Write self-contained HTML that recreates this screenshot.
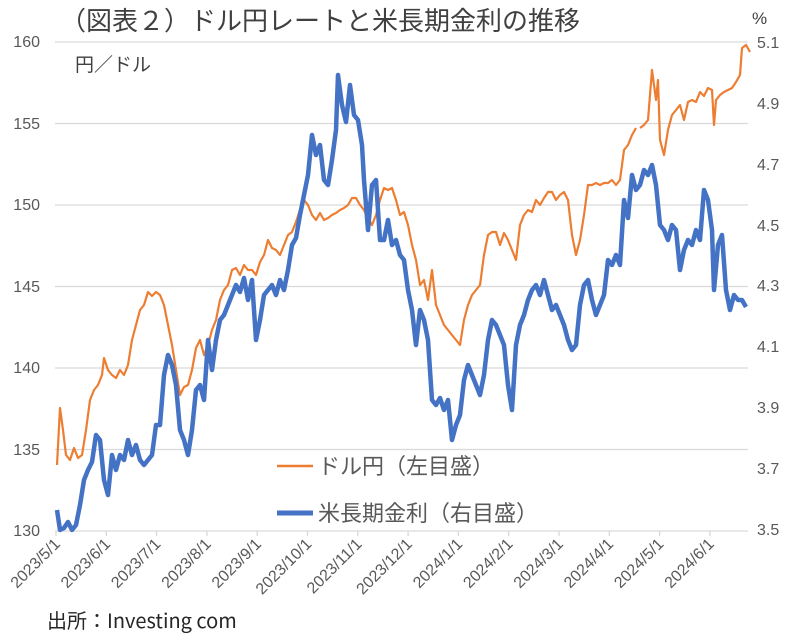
<!DOCTYPE html>
<html><head><meta charset="utf-8"><style>
body{margin:0;background:#fff;}
svg{display:block;font-family:"Liberation Sans","Noto Sans CJK JP",sans-serif;}
</style></head><body>
<svg width="796" height="636" viewBox="0 0 796 636" xmlns="http://www.w3.org/2000/svg">
<rect width="796" height="636" fill="#fff"/>
<text x="60" y="30" font-size="26" fill="#404040" font-family="Noto Sans CJK JP, sans-serif">（図表２）ドル円レートと米長期金利の推移</text>
<text x="752" y="24" font-size="17" fill="#404040">%</text>
<text x="75" y="71" font-size="19" fill="#404040" font-family="Noto Sans CJK JP, sans-serif">円／ドル</text>
<g stroke="#d9d9d9" stroke-width="1.3">
<line x1="55" y1="42" x2="748" y2="42"/><line x1="55" y1="123.5" x2="748" y2="123.5"/><line x1="55" y1="205" x2="748" y2="205"/><line x1="55" y1="286.5" x2="748" y2="286.5"/><line x1="55" y1="368" x2="748" y2="368"/><line x1="55" y1="449.5" x2="748" y2="449.5"/><line x1="55" y1="531" x2="748" y2="531"/>
</g>
<g stroke="#d9d9d9" stroke-width="1.3">
<line x1="56" y1="531" x2="56" y2="536"/><line x1="106.3" y1="531" x2="106.3" y2="536"/><line x1="156.6" y1="531" x2="156.6" y2="536"/><line x1="206.9" y1="531" x2="206.9" y2="536"/><line x1="257.2" y1="531" x2="257.2" y2="536"/><line x1="307.5" y1="531" x2="307.5" y2="536"/><line x1="357.8" y1="531" x2="357.8" y2="536"/><line x1="408.1" y1="531" x2="408.1" y2="536"/><line x1="458.4" y1="531" x2="458.4" y2="536"/><line x1="508.7" y1="531" x2="508.7" y2="536"/><line x1="559" y1="531" x2="559" y2="536"/><line x1="609.3" y1="531" x2="609.3" y2="536"/><line x1="659.6" y1="531" x2="659.6" y2="536"/><line x1="709.9" y1="531" x2="709.9" y2="536"/>
</g>
<g font-size="16" fill="#595959" text-anchor="end">
<text x="40" y="47">160</text><text x="40" y="129">155</text><text x="40" y="210">150</text><text x="40" y="292">145</text><text x="40" y="373">140</text><text x="40" y="455">135</text><text x="40" y="536">130</text>
</g>
<g font-size="16" fill="#595959">
<text x="757" y="48">5.1</text><text x="757" y="109">4.9</text><text x="757" y="170">4.7</text><text x="757" y="231">4.5</text><text x="757" y="291">4.3</text><text x="757" y="352">4.1</text><text x="757" y="413">3.9</text><text x="757" y="474">3.7</text><text x="757" y="535">3.5</text>
</g>
<g font-size="16" fill="#595959" text-anchor="end">
<text transform="translate(61,545) rotate(-45)">2023/5/1</text>
<text transform="translate(111.3,545) rotate(-45)">2023/6/1</text>
<text transform="translate(161.6,545) rotate(-45)">2023/7/1</text>
<text transform="translate(211.9,545) rotate(-45)">2023/8/1</text>
<text transform="translate(262.2,545) rotate(-45)">2023/9/1</text>
<text transform="translate(312.5,545) rotate(-45)">2023/10/1</text>
<text transform="translate(362.8,545) rotate(-45)">2023/11/1</text>
<text transform="translate(413.1,545) rotate(-45)">2023/12/1</text>
<text transform="translate(463.4,545) rotate(-45)">2024/1/1</text>
<text transform="translate(513.7,545) rotate(-45)">2024/2/1</text>
<text transform="translate(564,545) rotate(-45)">2024/3/1</text>
<text transform="translate(614.3,545) rotate(-45)">2024/4/1</text>
<text transform="translate(664.6,545) rotate(-45)">2024/5/1</text>
<text transform="translate(714.9,545) rotate(-45)">2024/6/1</text>
</g>
<polyline fill="none" stroke="#ed7d31" stroke-width="2.2" stroke-linejoin="round" points="57,465 60,408 63,430 66,455 70,460 74,448 78,458 82,455 86,430 90,400 94,390 98,385 102,375 104,358 108,370 112,375 116,378 120,370 124,375 128,365 132,340 136,325 140,310 144,305 148,292 152,296 156,292 160,295 164,305 168,325 172,345 176,370 180,395 184,387 188,385 192,370 196,348 200,340 204,355 208,345 212,330 216,320 220,300 224,290 228,285 232,270 236,268 240,275 244,265 248,270 252,270 256,275 260,262 264,255 268,240 272,248 276,250 280,255 284,245 288,235 292,232 296,222 300,210 304,200 308,205 312,215 316,220 320,213 324,220 328,218 332,215 336,213 340,210 344,208 348,205 352,198 356,198 360,205 364,210 368,218 372,225 376,215 380,200 384,188 388,190 392,188 396,200 400,215 404,212 408,225 412,245 416,260 420,285 424,280 428,300 432,270 436,305 440,315 444,325 448,330 452,335 456,340 460,345 464,320 468,305 472,295 476,290 480,285 484,255 488,235 492,232 496,232 500,245 504,233 508,240 512,250 516,260 520,225 524,215 528,210 532,212 536,200 540,205 544,198 548,192 552,192 556,200 560,195 564,192 568,200 572,235 576,255 580,240 584,215 588,185 592,185 596,183 600,185 604,183 608,183 612,180 616,185 620,180 624,150 628,145 632,135 636,128"/>
<polyline fill="none" stroke="#ed7d31" stroke-width="2.2" stroke-linejoin="round" points="640,128 644,125 648,120 652,70 656,100 658,80 660,140 664,155 668,130 672,115 676,110 680,105 684,120 688,102 692,100 696,102 700,92 704,96 708,88 712,90 714,125 716,100 720,95 724,92 728,90 732,88 736,82 740,75 742,48 746,45 750,52"/>
<polyline fill="none" stroke="#4472c4" stroke-width="4.5" stroke-linejoin="round" points="57,510 60,530 64,528 68,522 72,530 76,525 80,505 84,480 88,470 92,462 96,435 100,440 104,480 108,495 112,455 116,470 120,455 124,460 128,440 132,455 136,445 140,460 144,465 148,460 152,455 156,425 160,425 164,375 168,355 172,365 176,385 180,430 184,440 188,455 192,430 196,390 200,385 204,400 208,340 212,370 216,340 220,320 224,315 228,305 232,295 236,285 240,292 244,278 248,300 252,280 256,340 260,320 264,295 268,290 272,285 276,295 280,280 284,290 288,270 292,245 296,238 300,215 304,195 308,175 312,135 316,155 320,145 324,180 328,185 332,160 336,130 338,75 342,105 346,122 350,85 354,115 358,120 362,145 364,180 368,230 372,185 376,180 380,240 384,240 388,220 392,245 396,240 400,255 404,260 408,290 412,310 416,345 420,310 424,320 428,340 432,400 436,405 440,398 444,410 448,400 452,440 456,425 460,415 464,380 468,365 472,375 476,385 480,395 484,375 488,340 492,320 496,325 500,335 504,345 508,385 512,410 516,345 520,325 524,315 528,300 532,290 536,285 540,295 544,280 548,295 552,310 556,305 560,315 564,325 568,340 572,350 576,345 580,305 584,285 588,280 592,300 596,315 600,305 604,295 608,260 612,265 616,255 620,265 624,200 628,218 632,175 636,190 640,185 644,170 648,175 652,165 656,185 660,225 664,230 668,240 672,225 676,230 680,270 684,250 688,240 692,245 696,230 700,240 704,190 708,200 712,230 714,290 718,245 722,235 726,290 730,310 734,295 738,300 742,300 746,307"/>
<line x1="277" y1="466" x2="313" y2="466" stroke="#ed7d31" stroke-width="2.5"/>
<text x="318" y="474" font-size="22" fill="#595959" font-family="Noto Sans CJK JP, sans-serif">ドル円（左目盛）</text>
<line x1="277" y1="513" x2="313" y2="513" stroke="#4472c4" stroke-width="5"/>
<text x="318" y="521" font-size="22" fill="#595959" font-family="Noto Sans CJK JP, sans-serif">米長期金利（右目盛）</text>
<text x="47" y="628" font-size="20" fill="#262626" font-family="Noto Sans CJK JP, sans-serif">出所：Investing com</text>
</svg>
</body></html>
